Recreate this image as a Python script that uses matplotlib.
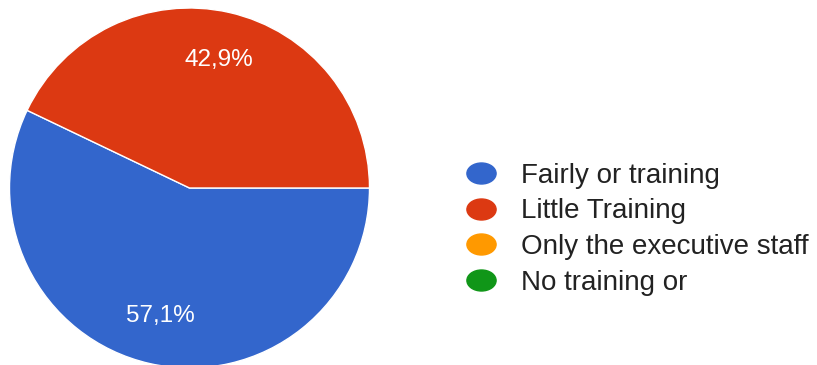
import matplotlib
matplotlib.use('Agg')
import matplotlib.pyplot as plt
from matplotlib.lines import Line2D
from matplotlib.path import Path
from matplotlib.transforms import Affine2D

categories = ['Fairly or training', 'Little Training', 'Only the executive staff', 'No training or']
shares = [57.1, 42.9, 0, 0]
colors = ['#3366cc', '#dc3912', '#ff9900', '#109618']

plt.rcParams['font.family'] = ['Liberation Sans', 'DejaVu Sans']

fig = plt.figure(figsize=(8.17, 3.65), dpi=100)
ax = fig.add_axes([9.5 / 817, -3 / 365, 360 / 817, 360 / 365])

# answers with no votes get no wedge and no label
shown = [(s, c) for s, c in zip(shares, colors) if s > 0]
wedges, texts, autotexts = ax.pie(
    [s for s, c in shown], colors=[c for s, c in shown],
    startangle=0, counterclock=False,
    autopct=lambda p: f'{p:.1f}%'.replace('.', ','),
    pctdistance=0.73, radius=1,
    wedgeprops=dict(edgecolor='white', linewidth=1),
    textprops=dict(color='white', fontsize=17.5))
ax.set_xlim(-1, 1)
ax.set_ylim(-1, 1)

# slightly flattened dots for the legend keys
dot = Path.unit_circle().transformed(Affine2D().scale(1, 0.72))
handles = [Line2D([], [], marker=dot, linestyle='', markersize=21, color=c) for c in colors]
fig.legend(handles, categories, loc='center left', bbox_to_anchor=(0.5716, 0.372),
           frameon=False, fontsize=20, borderpad=0, borderaxespad=0,
           handlelength=1, handletextpad=0.94, labelspacing=0.35, labelcolor='#222222')

fig.savefig('out.png', dpi=100)
